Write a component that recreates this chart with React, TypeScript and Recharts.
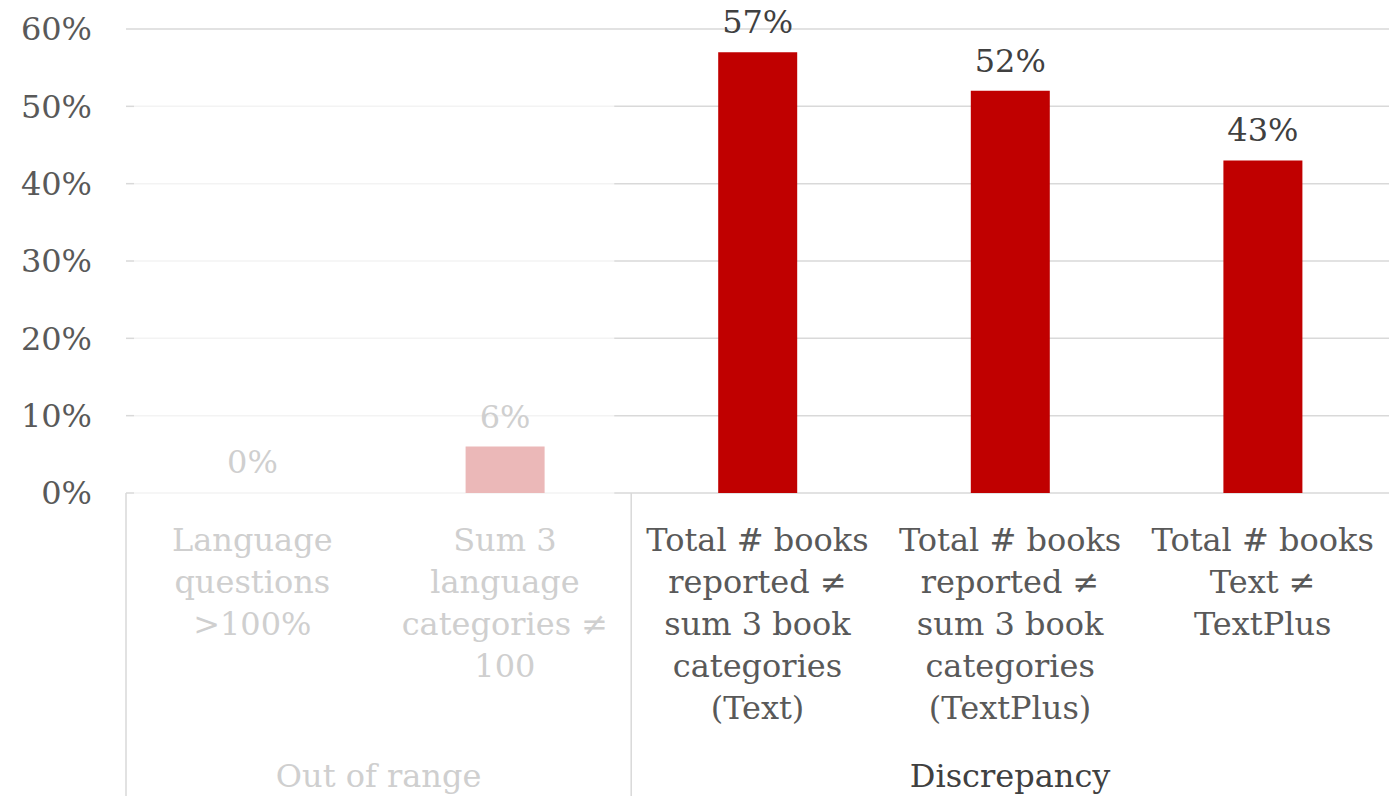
import React from "react";
import { BarChart, Bar, XAxis, YAxis, CartesianGrid, LabelList, Cell } from "recharts";

// ---- data ----
const categories = [
  "Language questions >100%",
  "Sum 3 language categories ≠ 100",
  "Total # books reported ≠ sum 3 book categories (Text)",
  "Total # books reported ≠ sum 3 book categories (TextPlus)",
  "Total # books Text ≠ TextPlus",
];
const categoryLines: string[][] = [
  ["Language", "questions", ">100%"],
  ["Sum 3", "language", "categories ≠", "100"],
  ["Total # books", "reported ≠", "sum 3 book", "categories", "(Text)"],
  ["Total # books", "reported ≠", "sum 3 book", "categories", "(TextPlus)"],
  ["Total # books", "Text ≠", "TextPlus"],
];
const values = [0.0, 0.06, 0.57, 0.52, 0.43];
const groupNames = ["Out of range", "Discrepancy"];
const groupOfCategory = [0, 0, 1, 1, 1];
const mutedGroups = [true, false];
const yTicks = [0, 0.1, 0.2, 0.3, 0.4, 0.5, 0.6];

const rows = categories.map((c, i) => ({ name: c, value: values[i], index: i }));

// ---- layout / style ----
const W = 1389;
const H = 796;
const Y_AXIS_W = 126;
const X_AXIS_H = 303;
const TOP = 29;
const PLOT_W = W - Y_AXIS_W;
const BAND = PLOT_W / categories.length;
const FONT = "'DejaVu Serif', serif";
const FS = 32;
const RED = "#c00000";
const RED_MUTED = "#ebb8b8";
const TEXT = "#595959";
const TEXT_DARK = "#404040";
const TEXT_MUTED = "#cfcfcf";
const GRID = "#d9d9d9";
const GRID_MUTED = "#f3f3f3";

const isMuted = (i: number) => mutedGroups[groupOfCategory[i]];

const CategoryTick = (props: any) => {
  const { x, y, payload } = props;
  const i: number = payload.index;
  const lines = categoryLines[i] || [];
  const g = groupOfCategory[i];
  const first = groupOfCategory.indexOf(g) === i;
  const count = groupOfCategory.filter((v) => v === g).length;
  const left = x - BAND / 2;
  const color = isMuted(i) ? TEXT_MUTED : TEXT;
  return (
    <g>
      <text x={x} y={y} textAnchor="middle" fontFamily={FONT} fontSize={FS} fill={color}>
        {lines.map((l, k) => (
          <tspan key={k} x={x} dy={k === 0 ? 58 : 42}>
            {l}
          </tspan>
        ))}
      </text>
      {first && (
        <g>
          <line x1={left} x2={left} y1={y} y2={H} stroke={GRID} strokeWidth={1.5} />
          <text
            x={left + (count * BAND) / 2}
            y={y + 294}
            textAnchor="middle"
            fontFamily={FONT}
            fontSize={FS}
            fill={mutedGroups[g] ? TEXT_MUTED : TEXT_DARK}
          >
            {groupNames[g]}
          </text>
        </g>
      )}
    </g>
  );
};

const GridLine = (props: any) => {
  const { x1, x2, y1, y2 } = props;
  const isTop = y1 <= TOP + 1;
  if (isTop) {
    return <line key={props.key} x1={x1} x2={x2} y1={y1} y2={y2} stroke={GRID} strokeWidth={1.5} />;
  }
  const a = x1 + 8;
  const b = x1 + BAND * 2 - 17;
  return (
    <g key={props.key}>
      <line x1={x1} x2={a} y1={y1} y2={y2} stroke={GRID} strokeWidth={1.5} />
      <line x1={a} x2={b} y1={y1} y2={y2} stroke={GRID_MUTED} strokeWidth={1.5} />
      <line x1={b} x2={x2} y1={y1} y2={y2} stroke={GRID} strokeWidth={1.5} />
    </g>
  );
};

const ValueLabel = (props: any) => {
  const { x, y, width, value } = props;
  const i = Number(value);
  return (
    <text
      x={x + width / 2}
      y={y - 19}
      textAnchor="middle"
      fontFamily={FONT}
      fontSize={FS}
      fill={isMuted(i) ? TEXT_MUTED : TEXT_DARK}
    >
      {Math.round(values[i] * 100) + "%"}
    </text>
  );
};

export default function App() {
  return (
    <div style={{ position: "absolute", left: 0, top: 0, width: W, height: H, background: "#fff" }}>
      <BarChart width={W} height={H} data={rows} margin={{ top: TOP, right: 0, bottom: 0, left: 0 }}>
        <CartesianGrid vertical={false} horizontal={GridLine} />
        <XAxis
          dataKey="name"
          height={X_AXIS_H}
          axisLine={false}
          tickLine={false}
          tickSize={0}
          tickMargin={0}
          interval={0}
          tick={<CategoryTick />}
        />
        <YAxis
          width={Y_AXIS_W}
          domain={[0, 0.6]}
          ticks={yTicks}
          axisLine={false}
          tickLine={false}
          tickSize={0}
          tickMargin={34}
          tickFormatter={(v: number) => Math.round(v * 100) + "%"}
          tick={{ fontFamily: FONT, fontSize: FS, fill: TEXT }}
        />
        <Bar dataKey="value" barSize={79} minPointSize={1} isAnimationActive={false}>
          {rows.map((r, i) => (
            <Cell key={i} fill={r.value === 0 ? "none" : isMuted(i) ? RED_MUTED : RED} />
          ))}
          <LabelList dataKey="index" content={<ValueLabel />} />
        </Bar>
      </BarChart>
    </div>
  );
}
